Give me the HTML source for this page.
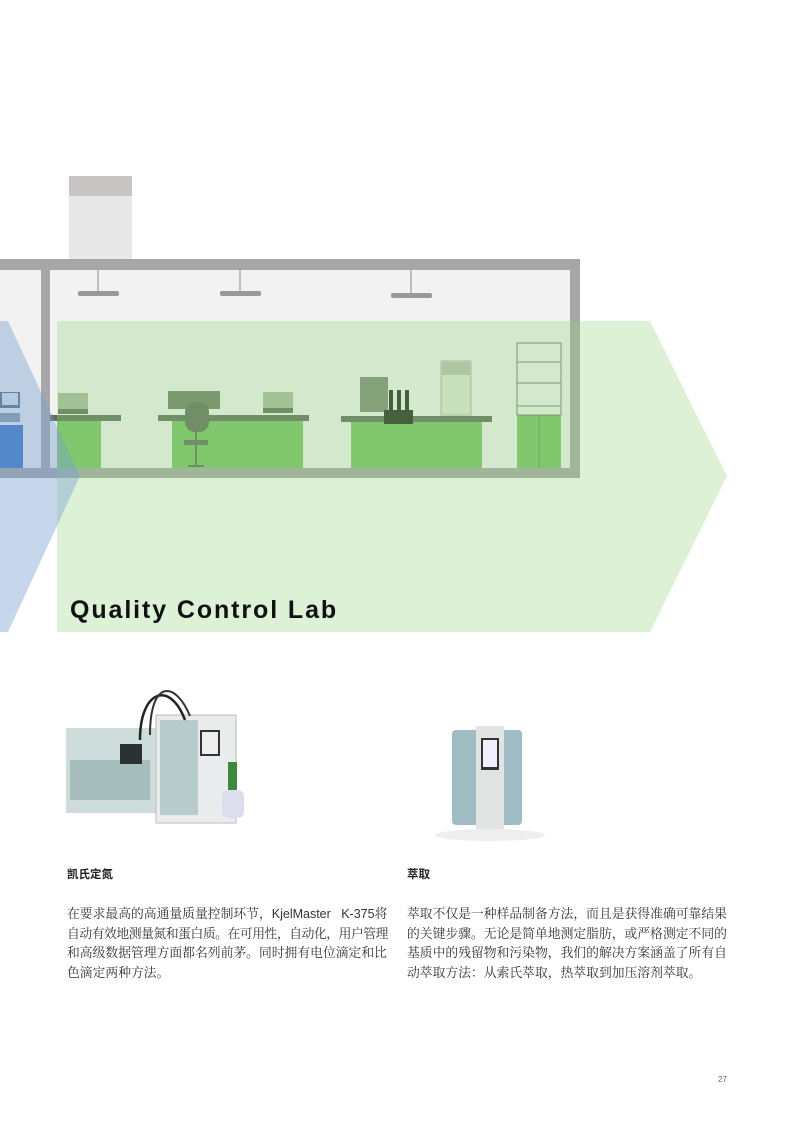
<!DOCTYPE html>
<html><head><meta charset="utf-8"><style>
body{margin:0;width:794px;height:1123px;background:#fff;position:relative;overflow:hidden;font-family:"Liberation Sans","Noto Sans CJK SC",sans-serif}
.t{position:absolute;color:#222}
.h{font-weight:bold;font-size:11.5px;top:866px}
.p{font-family:"Liberation Serif","Noto Serif CJK SC",serif;font-size:12.8px;line-height:19.5px;top:905px;width:325px;color:#333;white-space:nowrap}
.s{font-family:"Liberation Sans",sans-serif;font-size:12.5px}
</style></head><body>
<svg width="794" height="1123" style="position:absolute;left:0;top:0">
<rect x="69" y="176" width="63" height="20" fill="#c9c5c5"/>
<rect x="69" y="196" width="63" height="63" fill="#e7e7e7"/>
<rect x="0" y="259" width="580" height="219" fill="#a7a7a7"/>
<rect x="0" y="270" width="41" height="198" fill="#f2f2f2"/>
<rect x="50" y="270" width="520" height="198" fill="#f2f2f2"/>
<g stroke="#888" stroke-width="1"><line x1="98" y1="270" x2="98" y2="292"/><line x1="240" y1="270" x2="240" y2="292"/><line x1="411" y1="270" x2="411" y2="294"/></g>
<g fill="#999"><rect x="78" y="291" width="41" height="5" rx="2"/><rect x="220" y="291" width="41" height="5" rx="2"/><rect x="391" y="293" width="41" height="5" rx="2"/></g>
<rect x="0" y="425" width="23" height="43" fill="#3a78c4"/>
<rect x="0" y="392" width="20" height="16" fill="#5a6e80"/><rect x="2" y="393" width="16" height="12" fill="#dfe8f0"/>
<rect x="0" y="413" width="20" height="9" fill="#8a9aa8"/>
<g fill="#78c263">
<rect x="57" y="421" width="44" height="47"/><rect x="172" y="421" width="131" height="47"/><rect x="351" y="421" width="131" height="47"/><rect x="517" y="415" width="44" height="53"/>
</g>
<g fill="#5f6f5a">
<rect x="50" y="415" width="71" height="6"/><rect x="158" y="415" width="151" height="6"/><rect x="341" y="416" width="151" height="6"/>
</g>
<rect x="58" y="393" width="30" height="17" fill="#a8b8a0"/><rect x="58" y="409" width="30" height="5" fill="#5f6f5a"/>
<rect x="168" y="391" width="52" height="18" fill="#6f7f68"/>
<rect x="263" y="392" width="30" height="17" fill="#a8b8a0"/><rect x="263" y="408" width="30" height="5" fill="#5f6f5a"/>
<rect x="185" y="402" width="24" height="30" rx="10" fill="#5f6f5a"/><rect x="184" y="440" width="24" height="5" fill="#5f6f5a"/><rect x="195" y="432" width="2" height="34" fill="#5f6f5a"/><rect x="188" y="465" width="16" height="2" fill="#5f6f5a"/>
<rect x="360" y="377" width="28" height="35" fill="#7d8a76"/>
<rect x="384" y="410" width="29" height="14" fill="#1e2a1c"/><rect x="389" y="390" width="4" height="22" fill="#1e2a1c"/><rect x="397" y="390" width="4" height="22" fill="#1e2a1c"/><rect x="405" y="390" width="4" height="22" fill="#1e2a1c"/>
<rect x="441" y="361" width="30" height="54" fill="#e2e6dc" stroke="#aab0a4"/><rect x="442" y="362" width="28" height="13" fill="#b8beb2"/>
<rect x="517" y="343" width="44" height="72" fill="none" stroke="#6f7f68"/>
<g stroke="#6f7f68"><line x1="517" y1="362" x2="561" y2="362"/><line x1="517" y1="383" x2="561" y2="383"/><line x1="517" y1="406" x2="561" y2="406"/><line x1="539" y1="415" x2="539" y2="468"/></g>
<polygon points="57,321 650,321 727,476 650,632 57,632" fill="rgba(150,210,130,0.32)"/>
<polygon points="0,321 8,321 80,476 8,632 0,632" fill="rgba(120,160,210,0.42)"/>
<g>
<rect x="66" y="728" width="90" height="85" fill="#cfdcdc"/><rect x="70" y="760" width="80" height="40" fill="#a7bcbc"/>
<rect x="120" y="744" width="22" height="20" fill="#2c3232"/>
<rect x="156" y="715" width="80" height="108" fill="#e8ecec" stroke="#bbb"/><rect x="160" y="720" width="38" height="95" fill="#b8cccc"/>
<rect x="200" y="730" width="20" height="26" fill="#333"/><rect x="202" y="732" width="16" height="22" fill="#eee"/>
<path d="M140 740 C140 690 170 680 185 720" stroke="#222" stroke-width="2.5" fill="none"/>
<path d="M150 735 C150 680 175 680 190 716" stroke="#333" stroke-width="2" fill="none"/>
<rect x="222" y="790" width="22" height="28" rx="6" fill="#dde"/><rect x="228" y="762" width="9" height="28" fill="#3d8a3d"/>
<rect x="452" y="730" width="70" height="95" rx="4" fill="#9fbcc4"/><rect x="476" y="726" width="28" height="104" fill="#e2e4e4"/><rect x="481" y="738" width="18" height="32" fill="#333"/><rect x="483" y="740" width="14" height="27" fill="#eef"/>
<ellipse cx="490" cy="835" rx="55" ry="6" fill="#eee"/>
</g>
</svg>
<div class="t" style="left:70px;top:596px;font-size:25px;font-weight:bold;color:#111;letter-spacing:1.9px">Quality Control Lab</div>
<div class="t h" style="left:67px">凯氏定氮</div>
<div class="t h" style="left:407px">萃取</div>
<div class="t p" style="left:67px">在要求最高的高通量质量控制环节，<span class="s">KjelMaster&nbsp;&nbsp;&nbsp;K-375</span>将<br><span style="letter-spacing:-0.45px">自动有效地测量氮和蛋白质。在可用性，自动化，用户管理</span><br>和高级数据管理方面都名列前茅。同时拥有电位滴定和比<br>色滴定两种方法。</div>
<div class="t p" style="left:407px">萃取不仅是一种样品制备方法，而且是获得准确可靠结果<br>的关键步骤。无论是简单地测定脂肪，或严格测定不同的<br>基质中的残留物和污染物，我们的解决方案涵盖了所有自<br>动萃取方法：从索氏萃取，热萃取到加压溶剂萃取。</div>
<div class="t" style="left:718px;top:1075px;font-size:8px;color:#666">27</div>
</body></html>
